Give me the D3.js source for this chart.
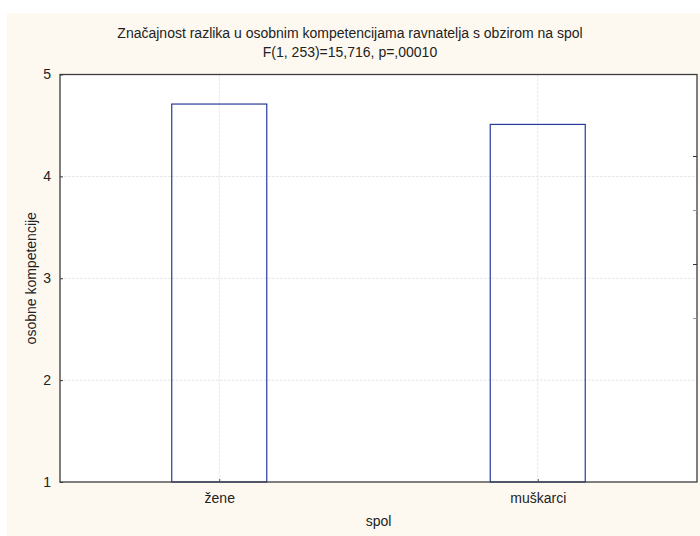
<!DOCTYPE html>
<html>
<head>
<meta charset="utf-8">
<script src="https://cdn.jsdelivr.net/npm/d3@7"></script>
<style>
  html, body { margin: 0; padding: 0; background: #ffffff; }
  svg { display: block; }
  text { font-family: "Liberation Sans", Arial, sans-serif; fill: #222; }
</style>
</head>
<body>
<svg id="chart" width="700" height="536"></svg>
<script>
// ---- data ----
const categories = ["žene", "muškarci"];
const values = [4.71, 4.51];
const yTicks = [1, 2, 3, 4, 5];
const rightTicks = [4.2, 3.67, 3.14, 2.61];
const titleLines = ["Značajnost razlika u osobnim kompetencijama ravnatelja s obzirom na spol",
                    "F(1, 253)=15,716, p=,00010"];
const xLabel = "spol";
const yLabel = "osobne kompetencije";

// ---- layout ----
const W = 700, H = 536;
const plot = { left: 60, top: 74.5, right: 697, bottom: 482 };
const FS = 14;
const svg = d3.select("#chart");

svg.append("rect").attr("x", 7).attr("y", 13).attr("width", W - 7).attr("height", H - 13)
  .attr("fill", "#fdf9f1");

svg.append("rect").attr("x", plot.left).attr("y", plot.top)
  .attr("width", plot.right - plot.left).attr("height", plot.bottom - plot.top)
  .attr("fill", "#ffffff");

const x = d3.scalePoint().domain(categories).range([plot.left, plot.right]).padding(0.5);
const y = d3.scaleLinear().domain([1, 5]).range([plot.bottom, plot.top]);
const barW = 95;

// gridlines
svg.append("g").selectAll("line").data(yTicks.filter(d => d > 1 && d < 5)).join("line")
  .attr("x1", plot.left).attr("x2", plot.right)
  .attr("y1", d => y(d)).attr("y2", d => y(d))
  .attr("stroke", "#e8e8e8").attr("stroke-width", 1).attr("stroke-dasharray", "3,1");
svg.append("g").selectAll("line").data(categories).join("line")
  .attr("x1", d => x(d)).attr("x2", d => x(d))
  .attr("y1", plot.top).attr("y2", plot.bottom)
  .attr("stroke", "#e8e8e8").attr("stroke-width", 1).attr("stroke-dasharray", "3,1");

// bars
svg.append("g").selectAll("rect").data(categories).join("rect")
  .attr("x", d => x(d) - barW / 2)
  .attr("y", (d, i) => y(values[i]))
  .attr("width", barW)
  .attr("height", (d, i) => y(1) - y(values[i]))
  .attr("fill", "none").attr("stroke", "#2a3a9c").attr("stroke-width", 1.2);

// frame
svg.append("rect").attr("x", plot.left).attr("y", plot.top)
  .attr("width", plot.right - plot.left).attr("height", plot.bottom - plot.top)
  .attr("fill", "none").attr("stroke", "#3c3c3c").attr("stroke-width", 1.3);

// left axis
const yAxis = d3.axisLeft(y).tickValues(yTicks).tickSize(-3).tickPadding(9).tickFormat(d3.format("d"));
const gy = svg.append("g").attr("transform", `translate(${plot.left},0)`).call(yAxis);
gy.select(".domain").remove();
gy.selectAll(".tick line").attr("stroke", "#3c3c3c");
gy.selectAll(".tick text").attr("font-size", FS).attr("fill", "#222")
  .attr("font-family", "Liberation Sans, Arial, sans-serif");

// right axis (unlabelled ticks)
const yRight = d3.axisRight(y).tickValues(rightTicks).tickSize(-4).tickFormat("");
const gr = svg.append("g").attr("transform", `translate(${plot.right},0)`).call(yRight);
gr.select(".domain").remove();
gr.selectAll(".tick line").attr("stroke", (d, i) => i % 2 ? "#999" : "#333");

// bottom axis
const xAxis = d3.axisBottom(x).tickSize(-3).tickPadding(11);
const gx = svg.append("g").attr("transform", `translate(0,${plot.bottom})`).call(xAxis);
gx.select(".domain").remove();
gx.selectAll(".tick line").attr("stroke", "#555");
gx.selectAll(".tick text").attr("font-size", FS).attr("fill", "#222")
  .attr("font-family", "Liberation Sans, Arial, sans-serif");

// titles
svg.append("g").selectAll("text").data(titleLines).join("text")
  .attr("x", 350).attr("y", (d, i) => 38 + i * 19)
  .attr("text-anchor", "middle").attr("font-size", FS).text(d => d);

svg.append("text").attr("x", (plot.left + plot.right) / 2).attr("y", 526)
  .attr("text-anchor", "middle").attr("font-size", FS).text(xLabel);

svg.append("text")
  .attr("transform", `translate(36,${(plot.top + plot.bottom) / 2}) rotate(-90)`)
  .attr("text-anchor", "middle").attr("font-size", FS).text(yLabel);
</script>
</body>
</html>
